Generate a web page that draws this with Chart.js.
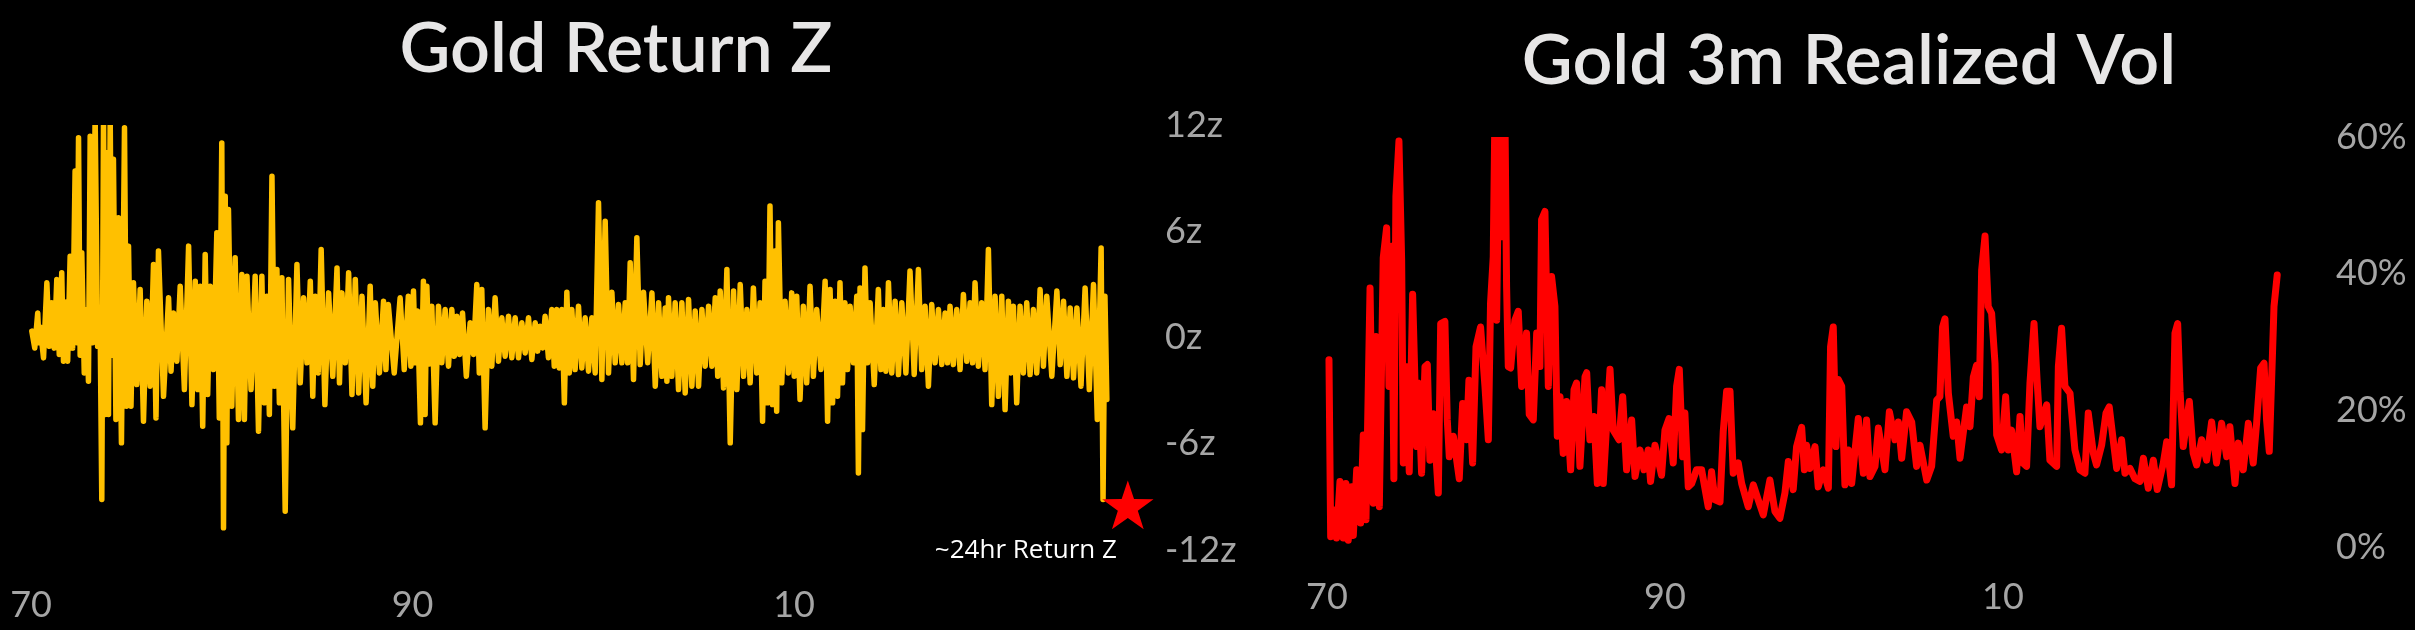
<!DOCTYPE html>
<html>
<head>
<meta charset="utf-8">
<script src="https://cdn.jsdelivr.net/npm/chart.js@4.4.1/dist/chart.umd.min.js"></script>
<style>
  html, body { margin: 0; padding: 0; background: #000; width: 2415px; height: 630px; overflow: hidden; position: relative; }
  #zChart { position: absolute; left: -28px; top: 0; width: 1288px; height: 630px; }
  #volChart { position: absolute; left: 1283px; top: 0; width: 1132px; height: 630px; }
</style>
</head>
<body>
<canvas id="zChart" width="1288" height="630"></canvas>
<canvas id="volChart" width="1132" height="630"></canvas>
<script>
// ---------------- DATA ----------------
const xTickYears  = [1970, 1990, 2010];
const xTickLabels = ['70', '90', '10'];
const zTickSuffix = 'z';
const volTickSuffix = '%';
const titleLeft  = 'Gold Return Z';
const titleRight = 'Gold 3m Realized Vol';
const annotationText = '~24hr Return Z';
const latestReturnZ = -9.6;

// Daily return z-score: local high / low envelope per time slice
const zYears = [1970.04,1970.35,1970.48,1970.83,1971.09,1971.35,1971.61,1971.79,1972.05,1972.31,1972.49,1972.66,1972.92,1973.10,1973.36,1973.62,1973.80,1973.97,1974.15,1974.32,1974.58,1974.90,1975.11,1975.37,1975.72,1976.07,1976.42,1976.68,1977.21,1977.47,1977.82,1978.26,1978.61,1978.87,1979.13,1979.39,1979.74,1980.00,1980.18,1980.35,1980.70,1981.05,1981.32,1981.75,1982.10,1982.36,1982.63,1982.89,1983.15,1983.50,1983.94,1984.29,1984.64,1984.90,1985.21,1985.60,1986.04,1986.30,1986.65,1987.00,1987.35,1987.78,1988.05,1988.48,1988.73,1989.35,1989.78,1990.05,1990.26,1990.57,1990.75,1991.01,1991.36,1991.71,1992.06,1992.32,1992.62,1993.02,1993.37,1993.63,1993.98,1994.33,1994.68,1995.03,1995.38,1995.73,1996.08,1996.43,1996.69,1996.95,1997.30,1997.56,1997.83,1998.09,1998.35,1998.70,1999.05,1999.40,1999.75,2000.10,2000.45,2000.80,2001.15,2001.41,2001.76,2002.11,2002.55,2002.90,2003.25,2003.42,2003.77,2004.12,2004.47,2004.82,2005.17,2005.52,2005.87,2006.13,2006.48,2006.83,2007.18,2007.53,2007.87,2008.22,2008.48,2008.74,2009.00,2009.18,2009.53,2009.88,2010.14,2010.49,2010.84,2011.19,2011.63,2011.89,2012.15,2012.41,2012.67,2012.94,2013.29,2013.46,2013.72,2013.99,2014.42,2014.69,2014.95,2015.30,2015.65,2016.08,2016.52,2016.87,2017.22,2017.57,2017.92,2018.18,2018.53,2018.88,2019.23,2019.49,2019.84,2020.19,2020.54,2020.89,2021.24,2021.50,2021.85,2022.20,2022.55,2022.90,2023.25,2023.78,2024.13,2024.48,2024.83,2025.26,2025.70,2026.10,2026.30];
const zHigh = [0.36,1.39,0.60,3.09,1.96,3.28,3.65,2.00,4.59,9.40,11.28,4.78,1.58,11.37,12.50,1.00,12.50,10.43,12.50,10.06,6.76,11.84,5.16,3.09,2.71,2.05,4.12,4.88,2.24,1.39,2.90,5.16,3.18,2.90,4.69,2.90,5.91,10.99,7.98,7.23,4.50,3.56,3.46,3.46,3.46,2.33,9.11,3.84,3.37,3.28,4.12,2.24,3.18,2.33,4.97,2.52,3.93,2.52,3.65,3.28,2.33,2.90,1.96,2.05,1.86,2.24,2.33,2.62,1.50,3.18,2.90,1.77,1.77,1.58,1.58,1.20,1.39,0.83,2.99,2.71,1.58,2.24,1.11,1.20,1.11,0.83,1.11,0.83,0.64,1.20,1.58,1.58,1.58,2.56,1.58,1.77,1.11,1.11,7.61,6.57,2.56,1.86,1.96,4.22,5.63,2.56,2.52,1.96,1.67,2.24,1.96,1.96,2.15,1.49,1.58,1.77,2.24,2.62,3.84,2.62,2.99,1.58,2.80,1.96,3.18,7.42,4.88,6.48,2.05,2.52,2.33,1.77,2.90,1.58,3.18,2.71,2.05,3.09,1.96,1.77,2.33,2.80,3.93,1.96,2.71,1.58,3.09,2.05,1.96,3.75,3.84,1.77,1.86,1.58,1.39,1.77,1.58,2.43,1.96,3.09,1.96,4.97,2.33,2.33,2.05,1.77,1.77,1.96,1.58,2.71,2.33,2.62,2.05,1.67,1.67,2.80,2.99,5.06,2.33];
const zLow = [-0.59,-0.30,-1.15,-0.50,-0.60,-0.96,-1.34,-1.34,-0.60,-0.30,-1.00,-2.00,-2.47,-0.30,-0.50,-9.15,-4.35,-4.35,-1.00,-4.63,-5.95,-3.88,-3.88,-2.66,-4.73,-2.75,-4.54,-3.32,-1.90,-1.34,-2.94,-3.79,-2.94,-5.01,-3.22,-1.81,-4.54,-10.75,-5.95,-3.88,-4.63,-4.63,-2.94,-5.29,-3.69,-4.35,-2.75,-3.69,-9.81,-5.10,-2.56,-1.43,-3.32,-2.00,-3.79,-2.19,-2.56,-1.43,-3.22,-3.13,-3.69,-2.75,-2.00,-1.81,-2.00,-1.81,-1.62,-1.43,-4.82,-4.35,-1.50,-4.82,-1.43,-1.62,-1.06,-0.96,-2.19,-0.96,-2.00,-5.10,-1.62,-1.34,-1.06,-1.15,-1.15,-0.87,-1.24,-0.77,-0.59,-1.15,-1.62,-1.72,-3.69,-2.00,-1.81,-1.72,-1.90,-2.00,-2.37,-2.00,-1.43,-1.43,-1.43,-2.37,-1.53,-1.43,-2.75,-2.19,-2.47,-2.19,-2.94,-3.13,-2.75,-2.75,-1.62,-1.62,-2.19,-2.85,-5.95,-2.94,-2.19,-2.56,-2.00,-4.73,-3.69,-3.79,-4.16,-2.56,-2.00,-2.19,-3.50,-2.56,-2.19,-1.81,-4.73,-3.69,-3.32,-2.56,-1.81,-1.43,-7.65,-5.20,-1.43,-2.66,-1.81,-1.90,-2.00,-2.09,-2.00,-2.09,-1.81,-2.75,-1.43,-1.53,-1.43,-1.53,-1.81,-1.34,-1.43,-1.62,-1.81,-3.79,-3.32,-4.07,-2.00,-3.69,-2.00,-2.09,-2.00,-1.62,-2.19,-1.53,-2.19,-2.28,-2.75,-2.94,-4.63,-9.15,-3.50];

// 3-month realized volatility (%), read as successive local peaks / troughs
const volYears = [1970.12,1970.22,1970.47,1970.57,1970.77,1970.97,1971.12,1971.26,1971.46,1971.56,1971.76,1971.99,1972.15,1972.31,1972.45,1972.55,1972.74,1972.90,1973.10,1973.33,1973.53,1973.67,1973.83,1973.96,1974.08,1974.26,1974.42,1974.52,1974.67,1974.87,1975.07,1975.31,1975.40,1975.60,1975.80,1975.94,1976.09,1976.29,1976.59,1976.73,1976.98,1977.12,1977.24,1977.48,1977.83,1978.03,1978.26,1978.40,1978.62,1978.82,1979.09,1979.35,1979.55,1979.68,1979.84,1979.94,1980.04,1980.20,1980.34,1980.53,1980.63,1980.73,1980.87,1981.12,1981.32,1981.52,1981.81,1981.97,1982.21,1982.41,1982.60,1982.70,1982.90,1983.10,1983.29,1983.49,1983.63,1983.79,1983.98,1984.18,1984.42,1984.62,1984.77,1984.97,1985.27,1985.37,1985.56,1985.80,1986.00,1986.25,1986.35,1986.59,1986.75,1986.94,1987.28,1987.50,1987.73,1988.03,1988.23,1988.52,1988.76,1989.01,1989.15,1989.41,1989.80,1990.00,1990.24,1990.49,1990.69,1990.85,1991.05,1991.18,1991.38,1991.58,1991.87,1992.17,1992.56,1992.76,1992.96,1993.26,1993.45,1993.65,1993.85,1994.04,1994.34,1994.54,1994.93,1995.23,1995.52,1995.82,1996.21,1996.51,1996.80,1997.10,1997.30,1997.59,1997.79,1998.09,1998.25,1998.38,1998.58,1998.88,1999.07,1999.37,1999.67,1999.80,1999.96,2000.12,2000.26,2000.46,2000.65,2000.85,2001.05,2001.44,2001.74,2001.93,2002.13,2002.43,2002.63,2003.02,2003.28,2003.61,2003.81,2004.01,2004.30,2004.60,2004.89,2005.09,2005.49,2005.78,2006.08,2006.27,2006.43,2006.57,2006.77,2007.06,2007.26,2007.46,2007.85,2008.05,2008.25,2008.44,2008.60,2008.74,2008.94,2009.13,2009.33,2009.53,2009.63,2009.92,2010.16,2010.32,2010.51,2010.81,2011.01,2011.17,2011.40,2011.60,2011.84,2012.03,2012.19,2012.59,2012.78,2013.18,2013.28,2013.47,2013.67,2013.97,2014.26,2014.56,2014.85,2015.05,2015.35,2015.54,2015.84,2016.10,2016.29,2016.43,2016.73,2017.02,2017.22,2017.52,2017.81,2018.11,2018.31,2018.60,2018.90,2019.13,2019.49,2019.69,2019.98,2020.18,2020.34,2020.48,2020.67,2021.03,2021.26,2021.46,2021.76,2022.05,2022.35,2022.64,2022.94,2023.24,2023.43,2023.73,2023.93,2024.22,2024.52,2024.81,2025.01,2025.25,2025.45,2025.60,2025.76,2025.90,2026.04,2026.23];
const volValues = [27.4,1.5,5.4,1.3,9.6,1.3,9.3,1.0,8.8,1.7,11.3,3.5,16.4,4.0,24.0,37.9,6.4,30.8,5.9,42.3,46.7,23.5,44.0,10.0,51.3,59.4,42.0,12.3,26.4,11.0,37.0,14.7,24.0,10.8,26.4,26.7,12.7,19.5,7.9,32.7,33.0,18.6,13.2,16.2,10.0,21.0,15.7,24.4,12.3,29.3,32.2,23.5,15.7,35.7,42.5,64.0,33.2,64.0,45.4,64.0,38.1,26.4,26.2,33.2,34.5,23.5,31.3,19.4,18.6,31.3,26.4,47.9,49.1,23.5,39.6,35.2,16.2,22.0,13.7,21.3,11.3,23.0,24.0,11.8,24.9,25.5,15.7,19.1,9.3,23.0,9.3,19.6,26.0,17.1,15.7,22.0,11.3,18.6,10.3,14.2,11.3,14.2,9.6,14.9,10.5,17.1,18.8,12.3,23.5,26.0,13.2,19.6,8.8,9.3,11.3,11.3,5.9,11.0,6.9,6.6,16.9,22.8,22.8,10.8,12.3,9.3,5.9,9.1,6.9,4.7,9.8,5.2,4.2,7.9,12.5,8.4,14.7,17.5,11.3,14.9,11.5,14.7,8.8,11.3,8.6,29.3,32.2,14.7,24.5,23.5,9.1,14.2,9.3,18.8,10.8,18.6,10.3,11.8,17.4,11.3,19.8,15.7,18.3,13.0,19.8,18.3,11.8,14.9,9.8,11.8,21.5,22.0,32.2,33.4,22.5,16.2,18.3,13.0,20.5,17.6,24.9,26.6,22.0,40.5,45.5,35.2,34.2,26.9,16.4,14.2,22.0,14.2,17.1,11.0,19.1,12.3,11.8,24.0,32.7,24.0,17.6,20.8,12.7,11.8,26.4,32.0,23.5,22.5,14.2,11.3,10.8,19.6,13.7,12.0,14.9,19.6,20.5,17.6,11.5,15.7,10.8,11.5,10.0,9.6,13.0,8.6,12.7,8.4,12.3,15.4,9.1,31.3,32.7,22.8,14.7,21.3,13.7,12.0,15.7,12.7,18.3,12.3,18.1,13.2,17.6,9.3,15.2,11.3,18.1,12.3,18.1,26.2,26.9,18.6,14.0,24.5,35.2,39.8];

// ---------------- STYLE ----------------
const GOLD = '#FFC000';
const RED = '#FF0000';
const TITLE_COLOR = '#E7E6E6';
const TICK_COLOR = '#A5A5A5';
const MAIN_FONT = 'Lato, "DejaVu Sans", sans-serif';

Chart.defaults.animation = false;
Chart.defaults.font.family = MAIN_FONT;

// high/low envelope -> alternating polyline
const zPoints = [];
zYears.forEach((yr, i) => {
  const next = i < zYears.length - 1 ? zYears[i + 1] : yr + 0.2;
  zPoints.push({ x: yr, y: zHigh[i] });
  zPoints.push({ x: (yr + next) / 2, y: zLow[i] });
});
const volPoints = volYears.map((yr, i) => ({ x: yr, y: volValues[i] }));

// Title drawn centred on a given canvas x (chart title box cannot be offset)
const headingPlugin = {
  id: 'heading',
  afterDraw(chart, args, opts) {
    if (!opts || !opts.text) return;
    const ctx = chart.ctx;
    ctx.save();
    ctx.font = `${opts.weight} ${opts.size}px ${MAIN_FONT}`;
    ctx.fillStyle = opts.color;
    ctx.textAlign = 'center';
    ctx.textBaseline = 'alphabetic';
    ctx.fillText(opts.text, opts.centerX, opts.baselineY);
    ctx.restore();
  }
};

const starPlugin = {
  id: 'latestStar',
  afterDatasetsDraw(chart, args, opts) {
    if (!opts || !opts.enabled) return;
    const { ctx, scales: { x, y } } = chart;
    const cx = x.getPixelForValue(zYears[zYears.length - 1] + opts.offsetYears);
    const cy = y.getPixelForValue(latestReturnZ);
    ctx.save();
    ctx.beginPath();
    for (let k = 0; k < 10; k++) {
      const rad = k % 2 === 0 ? opts.outer : opts.inner;
      const a = -Math.PI / 2 + k * Math.PI / 5;
      const px = cx + rad * Math.cos(a), py = cy + rad * Math.sin(a);
      if (k === 0) ctx.moveTo(px, py); else ctx.lineTo(px, py);
    }
    ctx.closePath();
    ctx.fillStyle = opts.color;
    ctx.fill();
    ctx.font = opts.font;
    ctx.fillStyle = opts.textColor;
    ctx.textAlign = 'right';
    ctx.textBaseline = 'alphabetic';
    ctx.fillText(annotationText, cx + opts.textDx, cy + opts.textDy);
    ctx.restore();
  }
};

const TICK_FONT = { size: 36, weight: 400, lineHeight: 1, family: MAIN_FONT };

function xAxis(min, max, height, padding) {
  return {
    type: 'linear', min, max,
    grid: { display: false }, border: { display: false },
    afterBuildTicks: s => { s.ticks = xTickYears.map(v => ({ value: v })); },
    afterFit: s => { s.height = height; s.paddingLeft = 0; s.paddingRight = 0; },
    ticks: {
      autoSkip: false, maxRotation: 0, minRotation: 0,
      padding, color: TICK_COLOR, font: TICK_FONT,
      callback: (v, i) => xTickLabels[i]
    }
  };
}
function yAxis(min, max, step, suffix, width, padding) {
  return {
    type: 'linear', position: 'right', min, max,
    grid: { display: false }, border: { display: false },
    afterFit: s => { s.width = width; s.paddingTop = 0; s.paddingBottom = 0; },
    ticks: {
      stepSize: step, padding, color: TICK_COLOR, font: TICK_FONT,
      callback: v => v + suffix
    }
  };
}
function headingOpts(text, centerX, baselineY) {
  return { text, centerX, baselineY, size: 70, weight: 600, color: TITLE_COLOR };
}

new Chart(document.getElementById('zChart'), {
  type: 'line',
  data: { datasets: [{
    data: zPoints, borderColor: GOLD, borderWidth: 5.5,
    pointRadius: 0, tension: 0, borderJoinStyle: 'round', borderCapStyle: 'round'
  }] },
  options: {
    responsive: false, devicePixelRatio: 1,
    layout: { padding: { left: 49.5, right: 0, top: 125, bottom: 0 } },
    parsing: false, normalized: true,
    scales: {
      x: xAxis(1969.5, 2028.4, 80, 29),
      y: yAxis(-12, 12, 6, zTickSuffix, 115, 12)
    },
    plugins: {
      legend: { display: false }, tooltip: { enabled: false }, title: { display: false },
      heading: headingOpts(titleLeft, 644, 72),
      latestStar: { enabled: true, offsetYears: 1.2, outer: 27, inner: 10.5, color: RED,
        font: '26px "Open Sans", "Noto Sans", sans-serif', textColor: '#FFFFFF', textDx: -11, textDy: 50 }
    }
  },
  plugins: [starPlugin, headingPlugin]
});

new Chart(document.getElementById('volChart'), {
  type: 'line',
  data: { datasets: [{
    data: volPoints, borderColor: RED, borderWidth: 7,
    pointRadius: 0, tension: 0, borderJoinStyle: 'round', borderCapStyle: 'round'
  }] },
  options: {
    responsive: false, devicePixelRatio: 1,
    layout: { padding: { left: 35.5, right: 0, top: 137, bottom: 0 } },
    parsing: false, normalized: true,
    scales: {
      x: xAxis(1969.5, 2028.17, 83, 24),
      y: yAxis(0, 60, 20, volTickSuffix, 105, 18)
    },
    plugins: {
      legend: { display: false }, tooltip: { enabled: false }, title: { display: false },
      heading: headingOpts(titleRight, 566, 84)
    }
  },
  plugins: [headingPlugin]
});
</script>
</body>
</html>
